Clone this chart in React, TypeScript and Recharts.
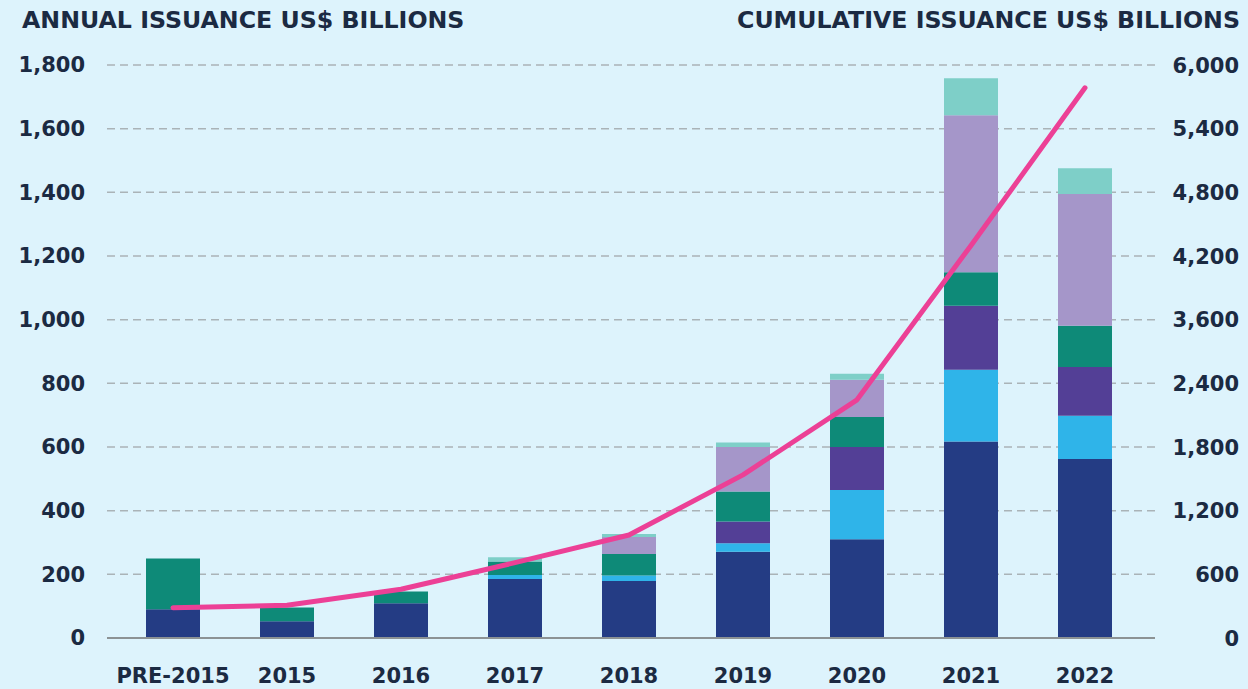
import {
  Bar,
  CartesianGrid,
  ComposedChart,
  Line,
  XAxis,
  YAxis,
} from "recharts";

const YEARS = ["PRE-2015", "2015", "2016", "2017", "2018", "2019", "2020", "2021", "2022"];

// annual issuance, US$ billions, stacked bottom to top
const GREEN_BONDS = [90, 53, 109, 185, 179, 271, 310, 617, 562];
const SOCIAL_BONDS = [0, 0, 0, 13, 17, 27, 155, 226, 136];
const SUSTAINABILITY_BONDS = [0, 0, 0, 0, 0, 68, 135, 201, 153];
const GREEN_LOANS = [160, 43, 37, 42, 68, 94, 94, 105, 130];
const SUSTAINABILITY_LINKED_LOANS = [0, 0, 0, 0, 53, 140, 117, 493, 414];
const SUSTAINABILITY_LINKED_BONDS = [0, 0, 0, 14, 10, 14, 19, 116, 81];

// cumulative issuance, US$ billions
const CUMULATIVE = [318, 342, 510, 789, 1079, 1708, 2494, 4111, 5761];

const LEFT_TICKS = [0, 200, 400, 600, 800, 1000, 1200, 1400, 1600, 1800];
const RIGHT_TICK_LABELS = ["0", "600", "1,200", "1,800", "2,400", "3,600", "4,200", "4,800", "5,400", "6,000"];
const RIGHT_MAX = 6000;
const RIGHT_TICKS = RIGHT_TICK_LABELS.map((_, index) => (index * RIGHT_MAX) / (RIGHT_TICK_LABELS.length - 1));

const data = YEARS.map((year, index) => ({
  year,
  greenBonds: GREEN_BONDS[index],
  socialBonds: SOCIAL_BONDS[index],
  sustainabilityBonds: SUSTAINABILITY_BONDS[index],
  greenLoans: GREEN_LOANS[index],
  sustainabilityLinkedLoans: SUSTAINABILITY_LINKED_LOANS[index],
  sustainabilityLinkedBonds: SUSTAINABILITY_LINKED_BONDS[index],
  cumulative: CUMULATIVE[index],
}));

const TEXT_COLOR = "#1b2a42";
const FONT = "'DejaVu Sans', sans-serif";
const BACKGROUND = "#ddf3fc";

const tickStyle = { fontFamily: FONT, fontWeight: 700, fontSize: 21, fill: TEXT_COLOR };

function RightTick({ x, y, payload, index }: any) {
  return (
    <text x={x + 76} y={y} dy="0.36em" textAnchor="end" {...tickStyle}>
      {RIGHT_TICK_LABELS[index ?? RIGHT_TICKS.indexOf(payload.value)]}
    </text>
  );
}

const titleStyle = {
  position: "absolute" as const,
  top: 9,
  fontFamily: FONT,
  fontWeight: 700,
  fontSize: 23.7,
  lineHeight: 1,
  color: TEXT_COLOR,
  whiteSpace: "nowrap" as const,
};

export default function App() {
  return (
    <div
      style={{
        position: "fixed",
        left: 0,
        top: 0,
        width: 1248,
        height: 689,
        background: BACKGROUND,
        overflow: "hidden",
      }}
    >
      <div style={{ ...titleStyle, left: 22 }}>ANNUAL ISSUANCE US$ BILLIONS</div>
      <div style={{ ...titleStyle, right: 8 }}>CUMULATIVE ISSUANCE US$ BILLIONS</div>

      <ComposedChart
        width={1248}
        height={689}
        data={data}
        margin={{ top: 65, right: 0, bottom: 0, left: 0 }}
        barSize={54}
      >
        <CartesianGrid
          yAxisId="left"
          vertical={false}
          stroke="#aab3b7"
          strokeDasharray="8 5"
          strokeWidth={1.5}
        />

        <XAxis
          dataKey="year"
          height={51}
          padding={{ left: 9, right: 13 }}
          tickLine={false}
          tickMargin={24}
          axisLine={{ stroke: "#8c9294", strokeWidth: 2 }}
          tick={tickStyle}
          interval={0}
        />

        <YAxis
          yAxisId="left"
          width={107}
          domain={[0, 1800]}
          ticks={LEFT_TICKS}
          tickFormatter={(value: number) => value.toLocaleString("en-US")}
          axisLine={false}
          tickLine={false}
          tickMargin={16}
          tick={tickStyle}
          interval={0}
        />

        <YAxis
          yAxisId="right"
          orientation="right"
          width={93}
          domain={[0, RIGHT_MAX]}
          ticks={RIGHT_TICKS}
          axisLine={false}
          tickLine={false}
          tickMargin={2}
          tick={<RightTick />}
          interval={0}
        />

        <Bar yAxisId="left" dataKey="greenBonds" stackId="annual" fill="#243c84" isAnimationActive={false} />
        <Bar yAxisId="left" dataKey="socialBonds" stackId="annual" fill="#2fb4e9" isAnimationActive={false} />
        <Bar yAxisId="left" dataKey="sustainabilityBonds" stackId="annual" fill="#533f96" isAnimationActive={false} />
        <Bar yAxisId="left" dataKey="greenLoans" stackId="annual" fill="#0e8a78" isAnimationActive={false} />
        <Bar yAxisId="left" dataKey="sustainabilityLinkedLoans" stackId="annual" fill="#a596c9" isAnimationActive={false} />
        <Bar yAxisId="left" dataKey="sustainabilityLinkedBonds" stackId="annual" fill="#7ecfc8" isAnimationActive={false} />

        <Line
          yAxisId="right"
          type="linear"
          dataKey="cumulative"
          stroke="#ec4096"
          strokeWidth={5}
          strokeLinecap="round"
          strokeLinejoin="round"
          dot={false}
          activeDot={false}
          isAnimationActive={false}
        />
      </ComposedChart>
    </div>
  );
}
